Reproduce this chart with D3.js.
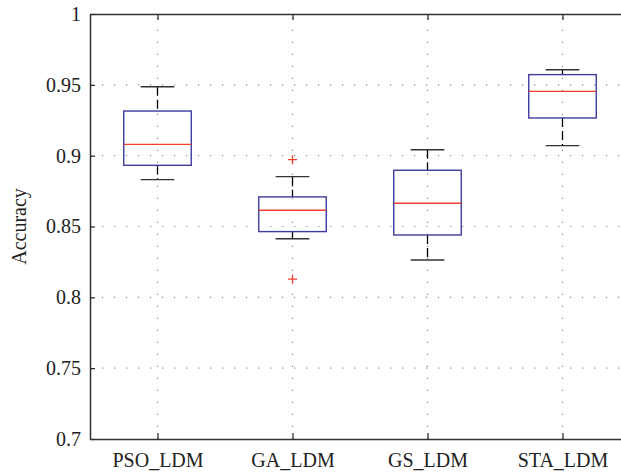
<!DOCTYPE html>
<html>
<head>
<meta charset="utf-8">
<script src="https://cdn.jsdelivr.net/npm/d3@7"></script>
<style>
  body { margin: 0; background: #fff; }
  svg text { font-family: "Liberation Serif", "Times New Roman", "DejaVu Serif", serif !important; }
</style>
</head>
<body>
<div id="chart"></div>
<script>
// Datos
const categories = ["PSO_LDM", "GA_LDM", "GS_LDM", "STA_LDM"];
const lowerWhisker = [0.8831, 0.8414, 0.8264, 0.9071];
const q1 = [0.8932, 0.8464, 0.8440, 0.9266];
const median = [0.9080, 0.8615, 0.8664, 0.9454];
const q3 = [0.9315, 0.8709, 0.8897, 0.9572];
const upperWhisker = [0.9487, 0.8852, 0.9042, 0.9607];
const outliers = [[], [0.8972, 0.8128], [], []];
const yTicks = [0.7, 0.75, 0.8, 0.85, 0.9, 0.95, 1];

const width = 621;
const height = 473;
const margin = { top: 14, right: -9, bottom: 34, left: 90 };

const boxes = categories.map((c, i) => ({
  name: c, pos: i + 1,
  lw: lowerWhisker[i], q1: q1[i], med: median[i], q3: q3[i], uw: upperWhisker[i],
  out: outliers[i]
}));

const svg = d3.select("#chart").append("svg")
  .attr("width", width)
  .attr("height", height)
  .attr("viewBox", [0, 0, width, height]);

const xScale = d3.scaleLinear([0.5, 4.5], [margin.left, width - margin.right]);
const yScale = d3.scaleLinear([0.7, 1], [height - margin.bottom, margin.top]);

const x0 = xScale.range()[0], x1 = xScale.range()[1];
const y0 = yScale.range()[0], y1 = yScale.range()[1];

// Rejilla punteada
const grid = svg.append("g")
  .attr("stroke", "#8a8a8a")
  .attr("stroke-width", 1.2)
  .attr("stroke-dasharray", "1.2,10.8");

grid.selectAll("line.h")
  .data(yTicks.slice(1, -1))
  .join("line")
  .attr("class", "h")
  .attr("x1", x0).attr("x2", x1)
  .attr("y1", d => yScale(d)).attr("y2", d => yScale(d));

grid.selectAll("line.v")
  .data(boxes)
  .join("line")
  .attr("class", "v")
  .attr("x1", d => xScale(d.pos)).attr("x2", d => xScale(d.pos))
  .attr("y1", y0).attr("y2", y1);

// Ejes (ticks hacia dentro)
const yAxis = d3.axisLeft(yScale).tickValues(yTicks).tickSize(-5).tickPadding(9)
  .tickFormat(d => d3.format("")(+d.toFixed(2)));
const xAxis = d3.axisBottom(xScale).tickValues([1, 2, 3, 4]).tickSize(-6).tickPadding(14)
  .tickFormat(d => categories[d - 1]);

svg.append("g")
  .attr("transform", `translate(${x0},0)`)
  .call(yAxis.tickSizeOuter(0))
  .call(g => g.select(".domain").attr("stroke", "#333").attr("stroke-width", 1.5))
  .call(g => g.selectAll(".tick line").attr("stroke", "#222").attr("stroke-width", 1.2))
  .call(g => g.selectAll(".tick text").attr("font-size", 20).attr("fill", "#222"));

svg.append("g")
  .attr("transform", `translate(0,${y0})`)
  .call(xAxis.tickSizeOuter(0))
  .call(g => g.select(".domain").attr("stroke", "#333").attr("stroke-width", 1.5))
  .call(g => g.selectAll(".tick line").attr("stroke", "#222").attr("stroke-width", 1.2))
  .call(g => g.selectAll(".tick text").attr("font-size", 20).attr("fill", "#222"));

// Borde superior con ticks
svg.append("g")
  .attr("transform", `translate(0,${y1})`)
  .call(d3.axisTop(xScale).tickValues([1, 2, 3, 4]).tickSize(-6).tickSizeOuter(0).tickFormat(""))
  .call(g => g.select(".domain").attr("stroke", "#333").attr("stroke-width", 1.5))
  .call(g => g.selectAll(".tick line").attr("stroke", "#222").attr("stroke-width", 1.2));

// Etiqueta del eje Y
svg.append("text")
  .attr("transform", `translate(26,${(y0 + y1) / 2}) rotate(-90)`)
  .attr("text-anchor", "middle")
  .attr("font-size", 20)
  .attr("fill", "#222")
  .text("Accuracy");

const half = (xScale(1.25) - xScale(1));
const capHalf = (xScale(1.125) - xScale(1));

const g = svg.append("g").selectAll("g").data(boxes).join("g");

// Bigotes discontinuos
g.append("line")
  .attr("x1", d => xScale(d.pos)).attr("x2", d => xScale(d.pos))
  .attr("y1", d => yScale(d.uw)).attr("y2", d => yScale(d.q3))
  .attr("stroke", "#000").attr("stroke-width", 1.3).attr("stroke-dasharray", "9,4");
g.append("line")
  .attr("x1", d => xScale(d.pos)).attr("x2", d => xScale(d.pos))
  .attr("y1", d => yScale(d.q1)).attr("y2", d => yScale(d.lw))
  .attr("stroke", "#000").attr("stroke-width", 1.3).attr("stroke-dasharray", "9,4");

// Tapas
g.selectAll("line.cap")
  .data(d => [d.uw, d.lw].map(v => ({ pos: d.pos, v })))
  .join("line")
  .attr("class", "cap")
  .attr("x1", d => xScale(d.pos) - capHalf).attr("x2", d => xScale(d.pos) + capHalf)
  .attr("y1", d => yScale(d.v)).attr("y2", d => yScale(d.v))
  .attr("stroke", "#333").attr("stroke-width", 1.4);

// Cajas
g.append("rect")
  .attr("x", d => xScale(d.pos) - half)
  .attr("width", 2 * half)
  .attr("y", d => yScale(d.q3))
  .attr("height", d => yScale(d.q1) - yScale(d.q3))
  .attr("fill", "none")
  .attr("stroke", "#3c3c9c")
  .attr("stroke-width", 1.4);

// Medianas
g.append("line")
  .attr("x1", d => xScale(d.pos) - half).attr("x2", d => xScale(d.pos) + half)
  .attr("y1", d => yScale(d.med)).attr("y2", d => yScale(d.med))
  .attr("stroke", "#f0402a").attr("stroke-width", 1.4);

// Valores atípicos
g.selectAll("path.out")
  .data(d => d.out.map(v => ({ pos: d.pos, v })))
  .join("path")
  .attr("class", "out")
  .attr("d", d => {
    const cx = xScale(d.pos), cy = yScale(d.v);
    return `M${cx - 4.5},${cy}H${cx + 4.5}M${cx},${cy - 4.5}V${cy + 4.5}`;
  })
  .attr("stroke", "#f0402a").attr("stroke-width", 1.3);
</script>
</body>
</html>
